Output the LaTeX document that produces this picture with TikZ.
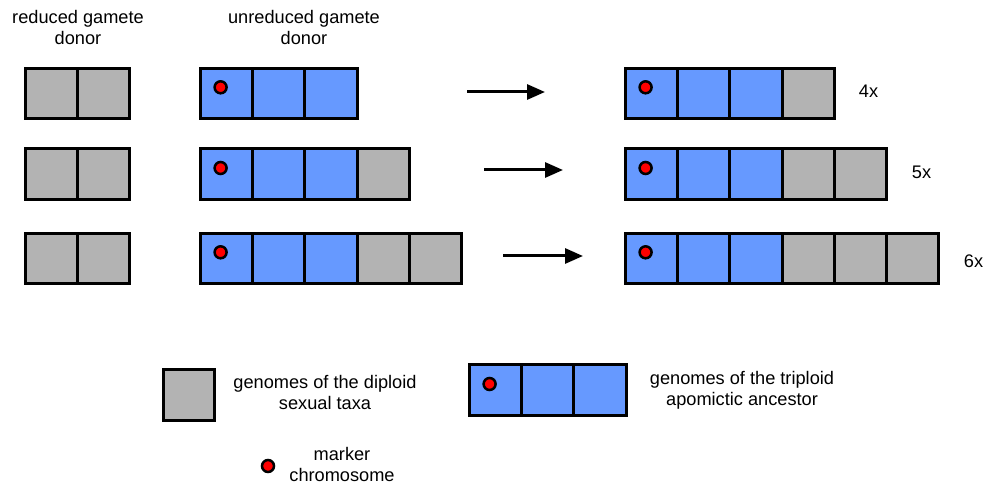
\documentclass[tikz,border=0pt]{standalone}
\usepackage{fontspec}
\setmainfont{Liberation Sans}
\usetikzlibrary{arrows.meta,positioning}
\definecolor{gbox}{RGB}{179,179,179}
\definecolor{bbox}{RGB}{102,153,255}
\definecolor{mred}{RGB}{255,0,0}
\tikzset{
  sq/.style={draw=black, line width=3pt, minimum width=52.2pt, minimum height=50.5pt, inner sep=0pt, outer sep=0pt, anchor=west},
  graysq/.style={sq, fill=gbox},
  bluesq/.style={sq, fill=bbox},
  mdot/.style={circle, draw=black, fill=mred, line width=2.5pt, minimum size=12pt, inner sep=0pt},
  arr/.style={line width=3pt, -{Triangle[length=18pt,width=15pt]}},
  lbl/.style={font=\fontsize{18.2}{20.5}\selectfont, align=center, inner sep=0pt, anchor=base},
}
\begin{document}
\begin{tikzpicture}[x=1pt,y=-1pt]
\useasboundingbox (0,0) rectangle (985,486);
% headers
\node[lbl] (h1) at (78,44.5) {reduced gamete\\donor};
\node[lbl] (h2) at (304,44.5) {unreduced gamete\\donor};
% row 1
\node[graysq] (a1) at (25,93.3) {};
\node[graysq, right=0pt of a1] (a2) {};
\node[bluesq] (b1) at (200.5,93.3) {};
\node[bluesq, right=0pt of b1] (b2) {};
\node[bluesq, right=0pt of b2] (b3) {};
\node[mdot] (bd) at ([xshift=-6pt,yshift=6pt]b1.center) {};
\node[bluesq] (c1) at (625.5,93.3) {};
\node[bluesq, right=0pt of c1] (c2) {};
\node[bluesq, right=0pt of c2] (c3) {};
\node[graysq, right=0pt of c3] (c4) {};
\node[mdot] (cd) at ([xshift=-6pt,yshift=6pt]c1.center) {};
\coordinate (s1) at (467,92);
\coordinate (e1) at (545,92);
\draw[arr] (s1) -- (e1);
\node[lbl] (n4) at (868.5,98) {4x};
% row 2
\node[graysq] (d1) at (25,174) {};
\node[graysq, right=0pt of d1] (d2) {};
\node[bluesq] (f1) at (200.5,174) {};
\node[bluesq, right=0pt of f1] (f2) {};
\node[bluesq, right=0pt of f2] (f3) {};
\node[graysq, right=0pt of f3] (f4) {};
\node[mdot] (fd) at ([xshift=-6pt,yshift=6pt]f1.center) {};
\node[bluesq] (g1) at (625.5,174) {};
\node[bluesq, right=0pt of g1] (g2) {};
\node[bluesq, right=0pt of g2] (g3) {};
\node[graysq, right=0pt of g3] (g4) {};
\node[graysq, right=0pt of g4] (g5) {};
\node[mdot] (gd) at ([xshift=-6pt,yshift=6pt]g1.center) {};
\coordinate (s2) at (484,170);
\coordinate (e2) at (563,170);
\draw[arr] (s2) -- (e2);
\node[lbl] (n5) at (921.5,178.5) {5x};
% row 3
\node[graysq] (k1) at (25,258.3) {};
\node[graysq, right=0pt of k1] (k2) {};
\node[bluesq] (m1) at (200.5,258.3) {};
\node[bluesq, right=0pt of m1] (m2) {};
\node[bluesq, right=0pt of m2] (m3) {};
\node[graysq, right=0pt of m3] (m4) {};
\node[graysq, right=0pt of m4] (m5) {};
\node[mdot] (md) at ([xshift=-6pt,yshift=6pt]m1.center) {};
\node[bluesq] (p1) at (625.5,258.3) {};
\node[bluesq, right=0pt of p1] (p2) {};
\node[bluesq, right=0pt of p2] (p3) {};
\node[graysq, right=0pt of p3] (p4) {};
\node[graysq, right=0pt of p4] (p5) {};
\node[graysq, right=0pt of p5] (p6) {};
\node[mdot] (pd) at ([xshift=-6pt,yshift=6pt]p1.center) {};
\coordinate (s3) at (503,256);
\coordinate (e3) at (583,256);
\draw[arr] (s3) -- (e3);
\node[lbl] (n6) at (973.5,267.5) {6x};
% legend
\node[graysq, minimum width=51pt, minimum height=51pt] (lg) at (163.5,395) {};
\node[lbl] (lgt) at (325,409) {genomes of the diploid\\sexual taxa};
\node[bluesq] (lb1) at (469.5,390) {};
\node[bluesq, right=0pt of lb1] (lb2) {};
\node[bluesq, right=0pt of lb2] (lb3) {};
\node[mdot] (lbd) at ([xshift=-6pt,yshift=6pt]lb1.center) {};
\node[lbl] (lbt) at (742,405) {genomes of the triploid\\apomictic ancestor};
\node[mdot] (ld) at (268,466) {};
\node[lbl] (ldt) at (342,481) {marker\\chromosome};
\end{tikzpicture}
\end{document}
